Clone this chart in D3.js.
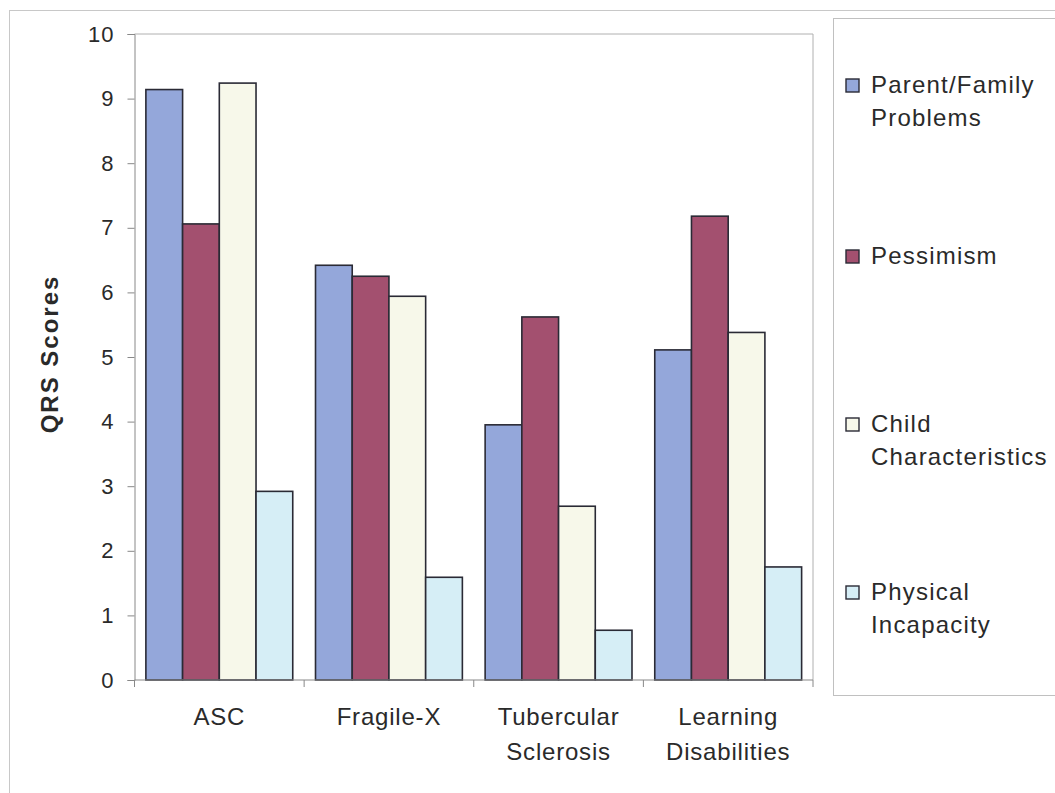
<!DOCTYPE html>
<html><head><meta charset="utf-8">
<script src="https://cdn.jsdelivr.net/npm/d3@7"></script>
<style>body{margin:0;background:#fff}svg{display:block}text{font-family:"Liberation Sans",Arial,sans-serif;fill:#2a2a2a}</style>
</head><body>
<script>
const categories = [["ASC"],["Fragile-X"],["Tubercular","Sclerosis"],["Learning","Disabilities"]];
const seriesNames = [["Parent/Family","Problems"],["Pessimism"],["Child","Characteristics"],["Physical","Incapacity"]];
const parentFamily = [9.14, 6.42, 3.95, 5.11];
const pessimism = [7.06, 6.25, 5.62, 7.18];
const childChar = [9.24, 5.94, 2.69, 5.38];
const physical = [2.92, 1.59, 0.77, 1.75];
const yTicks = [0,1,2,3,4,5,6,7,8,9,10];
const colors = ["#94A7DA","#A3506F","#F7F8EA","#D6EEF6"];

const series = [parentFamily, pessimism, childChar, physical];
const W = 1055, H = 793;
const svg = d3.select("body").append("svg").attr("width", W).attr("height", H);
const m = {l:134.5, r:813, t:34, b:680};

// outer border
svg.append("rect").attr("x",9.5).attr("y",10.5).attr("width",W+10).attr("height",H+10)
  .attr("fill","none").attr("stroke","#c8c8c8");

const x0 = d3.scaleBand().domain(d3.range(categories.length)).range([m.l, m.r]).paddingInner(0).paddingOuter(0);
const y = d3.scaleLinear().domain([0,10]).range([m.b, m.t]);
const gap = 0.62;
const bw = x0.bandwidth() / (series.length + gap);

// plot border (top/right)
svg.append("path").attr("d", `M${m.l},${m.t}H${m.r}V${m.b}`).attr("fill","none").attr("stroke","#b0b0b0");

// bars
series.forEach((s, si) => {
  svg.append("g").selectAll("rect").data(s).join("rect")
    .attr("x", (d,i) => x0(i) + bw*gap/2 + si*bw)
    .attr("y", d => y(d))
    .attr("width", bw)
    .attr("height", d => y(0) - y(d))
    .attr("fill", colors[si])
    .attr("stroke", "#2a2a35").attr("stroke-width", 1.6);
});

// y axis
const ya = svg.append("g").attr("transform", `translate(${m.l},0)`)
  .call(d3.axisLeft(y).tickValues(yTicks).tickSize(7).tickPadding(13).tickFormat(d3.format("d")));
ya.select(".domain").attr("stroke","#888");
ya.selectAll(".tick line").attr("stroke","#888");
ya.selectAll(".tick text").attr("font-size",22).attr("letter-spacing",1).attr("fill","#2a2a2a")
  .attr("font-family","Liberation Sans, Arial, sans-serif");

// x axis
const xa = svg.append("g").attr("transform", `translate(0,${m.b})`);
xa.append("line").attr("x1", m.l).attr("x2", m.r).attr("y1",0).attr("y2",0).attr("stroke","#888");
xa.selectAll("line.tk").data(d3.range(categories.length+1)).join("line")
  .attr("x1", i => m.l + i*x0.bandwidth()).attr("x2", i => m.l + i*x0.bandwidth())
  .attr("y1",0).attr("y2",7).attr("stroke","#888");
categories.forEach((lines, i) => {
  const cx = x0(i)+x0.bandwidth()/2;
  const t = svg.append("text").attr("x", cx).attr("y", 725)
    .attr("text-anchor","middle").attr("font-size",24).attr("letter-spacing",0.8);
  lines.forEach((ln, k) => t.append("tspan").attr("x", cx).attr("dy", k===0?0:35).text(ln));
});

// y title
svg.append("text").attr("transform","translate(58,354) rotate(-90)").attr("text-anchor","middle")
  .attr("font-size",24).attr("font-weight","bold").attr("letter-spacing",2).text("QRS Scores");

// legend
svg.append("rect").attr("x",833.5).attr("y",18.5).attr("width",240).attr("height",677)
  .attr("fill","none").attr("stroke","#c0c0c0");
const ly = [93, 264, 432, 600];
seriesNames.forEach((lines, i) => {
  svg.append("rect").attr("x",846).attr("y",ly[i]-14).attr("width",13).attr("height",13)
    .attr("fill",colors[i]).attr("stroke","#2a2a35").attr("stroke-width",1.4);
  const t = svg.append("text").attr("x",871).attr("y",ly[i]).attr("font-size",24).attr("letter-spacing",1.2);
  lines.forEach((ln,k) => t.append("tspan").attr("x",871).attr("dy",k===0?0:33).text(ln));
});
</script>
</body></html>
